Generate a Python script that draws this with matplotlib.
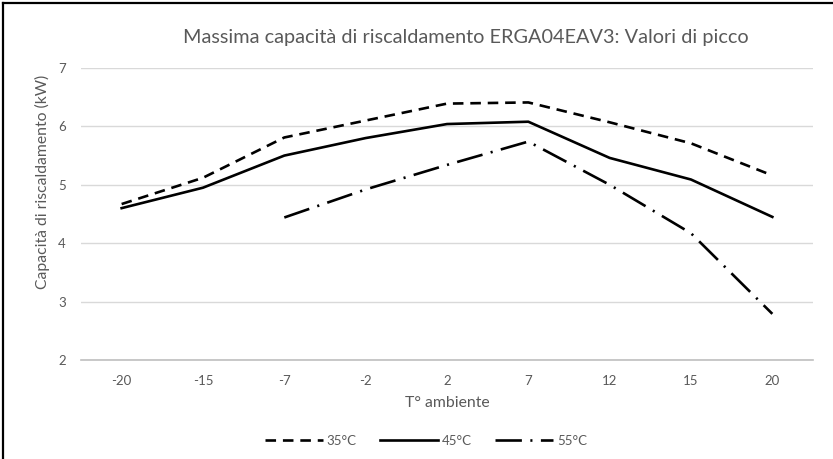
import matplotlib
matplotlib.use("Agg")
import matplotlib.pyplot as plt
from matplotlib.lines import Line2D

categories = ["-20", "-15", "-7", "-2", "2", "7", "12", "15", "20"]
s35 = [4.67, 5.12, 5.81, 6.10, 6.39, 6.41, 6.07, 5.71, 5.16]
s45 = [4.60, 4.95, 5.50, 5.80, 6.04, 6.08, 5.46, 5.09, 4.45]
s55 = [None, None, 4.44, 4.92, 5.34, 5.74, 5.00, 4.17, 2.79]
series_names = ["35°C", "45°C", "55°C"]
yticks = [2, 3, 4, 5, 6, 7]

plt.rcParams['font.family'] = ['Lato', 'DejaVu Sans']
grey = '#595959'

fig = plt.figure(figsize=(8.33, 4.59), dpi=100)
ax = fig.add_axes([0.0972, 0.2157, 0.8788, 0.6362])

x = list(range(len(categories)))
lw = 1.9
ax.plot(x, s35, color='black', lw=lw, dashes=(4, 2.6), label=series_names[0])
ax.plot(x, s45, color='black', lw=lw, label=series_names[1])
x55 = [xi for xi, v in zip(x, s55) if v is not None]
y55 = [v for v in s55 if v is not None]
ax.plot(x55, y55, color='black', lw=lw, dashes=(10, 3.2, 0.8, 3.2), label=series_names[2])

ax.set_xlim(-0.5, len(categories) - 0.5)
ax.set_ylim(2, 7)
ax.set_yticks(yticks)
ax.set_yticklabels([str(t) for t in yticks])
ax.set_xticks(x)
ax.set_xticklabels(categories)
ax.grid(axis='y', color='#d9d9d9', lw=1)
ax.set_axisbelow(True)
for s in ['top', 'right', 'left']:
    ax.spines[s].set_visible(False)
ax.spines['bottom'].set_color('#bfbfbf')
ax.spines['bottom'].set_linewidth(1.2)
ax.tick_params(axis='both', length=0, colors=grey, labelsize=9.5)
ax.tick_params(axis='y', pad=11)
ax.tick_params(axis='x', pad=11)

ax.set_xlabel("T° ambiente", color=grey, fontsize=11.3)
ax.xaxis.set_label_coords(0.5, -0.147)
ax.xaxis.label.set_va('center')
ax.set_ylabel("Capacità di riscaldamento (kW)", color=grey, fontsize=11.3)
ax.yaxis.set_label_coords(-38 / 732, 0.61)
ax.yaxis.label.set_va('center')

fig.text(465.5 / 833, 1 - 38 / 459, "Massima capacità di riscaldamento ERGA04EAV3: Valori di picco",
         ha='center', va='center', color=grey, fontsize=14.3)

leg = fig.legend(loc='center', bbox_to_anchor=(426 / 833, 1 - 441 / 459), ncol=3, frameon=False,
                 fontsize=9.5, handlelength=4.4, columnspacing=1.8, handletextpad=0.25)
for t in leg.get_texts():
    t.set_color(grey)

fig.add_artist(Line2D([3 / 833, 1], [1 - 2.5 / 459, 1 - 2.5 / 459], transform=fig.transFigure,
                      color='black', lw=1.6))
fig.add_artist(Line2D([3 / 833, 3 / 833], [0, 1 - 2.5 / 459], transform=fig.transFigure,
                      color='black', lw=1.6))

fig.savefig("out.png", dpi=100)
